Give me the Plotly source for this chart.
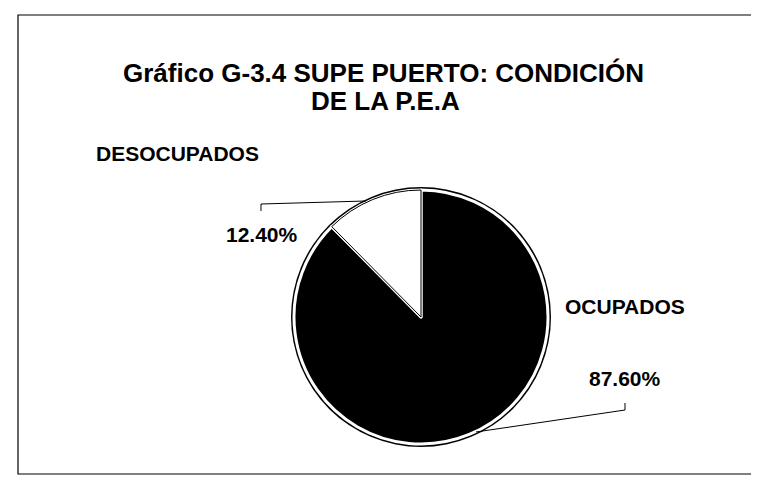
import plotly.graph_objects as go

W, H = 759, 484

# ---- data ----
categories = ["OCUPADOS", "DESOCUPADOS"]
values = [87.60, 12.40]
pct_labels = ["87.60%", "12.40%"]
slice_colors = ["#000000", "#ffffff"]
title_lines = ["Gráfico G-3.4 SUPE PUERTO: CONDICIÓN", "DE LA P.E.A"]

def px(x):
    return x / W

def py(y):
    return 1 - y / H

# pie geometry (pixels)
cx, cy, R = 413, 309, 127

def dom(r):
    return dict(x=[px(cx - r), px(cx + r)], y=[py(cy + r), py(cy - r)])

fig = go.Figure()
# outer black ring
fig.add_trace(go.Pie(values=[1], marker=dict(colors=["#000000"], line=dict(width=0)),
                     domain=dom(R + 3), textinfo="none", hoverinfo="skip", showlegend=False, sort=False))
# main pie
fig.add_trace(go.Pie(labels=categories, values=values, sort=False, direction="clockwise", rotation=0,
                     marker=dict(colors=slice_colors, line=dict(color="#ffffff", width=3)),
                     domain=dom(R), textinfo="none", hoverinfo="skip", showlegend=False))
# thin black outline for the white slice
fig.add_trace(go.Pie(labels=categories, values=values, sort=False, direction="clockwise", rotation=0,
                     marker=dict(colors=["rgba(0,0,0,0)", "rgba(0,0,0,0)"],
                                 line=dict(color=["rgba(0,0,0,0)", "#000000"], width=1)),
                     domain=dom(R), textinfo="none", hoverinfo="skip", showlegend=False))

TFONT = "Liberation Sans, Arial"
LFONT = "Liberation Sans, Arial"

ann = []
ann.append(dict(text="<b>%s</b>" % title_lines[0], x=px(375), y=py(65), xanchor="center", yanchor="middle",
                font=dict(family=TFONT, size=26, color="black")))
ann.append(dict(text="<b>%s</b>" % title_lines[1], x=px(377), y=py(93), xanchor="center", yanchor="middle",
                font=dict(family=TFONT, size=26, color="black")))
ann.append(dict(text="<b>%s</b>" % categories[1], x=px(86), y=py(145), xanchor="left", yanchor="middle",
                font=dict(family=LFONT, size=21, color="black")))
ann.append(dict(text="<b>%s</b>" % pct_labels[1], x=px(254), y=py(226), xanchor="center", yanchor="middle",
                font=dict(family=LFONT, size=21, color="black")))
ann.append(dict(text="<b>%s</b>" % categories[0], x=px(555), y=py(298), xanchor="left", yanchor="middle",
                font=dict(family=LFONT, size=21, color="black")))
ann.append(dict(text="<b>%s</b>" % pct_labels[0], x=px(617), y=py(370), xanchor="center", yanchor="middle",
                font=dict(family=LFONT, size=21, color="black")))
for a in ann:
    a.update(xref="paper", yref="paper", showarrow=False)

# leader lines (pixel points)
leader1 = [(253, 203), (253, 196), (358, 193)]
leader2 = [(617, 395), (617, 402), (468, 424)]

def path(pts):
    return "M " + " L ".join("%f,%f" % (px(x), py(y)) for x, y in pts)

shapes = [
    dict(type="path", path=path(leader1), xref="paper", yref="paper", line=dict(color="black", width=1)),
    dict(type="path", path=path(leader2), xref="paper", yref="paper", line=dict(color="black", width=1)),
    dict(type="rect", x0=px(10), x1=px(750), y0=py(466), y1=py(7), xref="paper", yref="paper",
         line=dict(color="black", width=1.2)),
]

fig.update_layout(width=W, height=H, margin=dict(l=0, r=0, t=0, b=0),
                  paper_bgcolor="white", plot_bgcolor="white",
                  annotations=ann, shapes=shapes)

fig.write_html("out.html")
